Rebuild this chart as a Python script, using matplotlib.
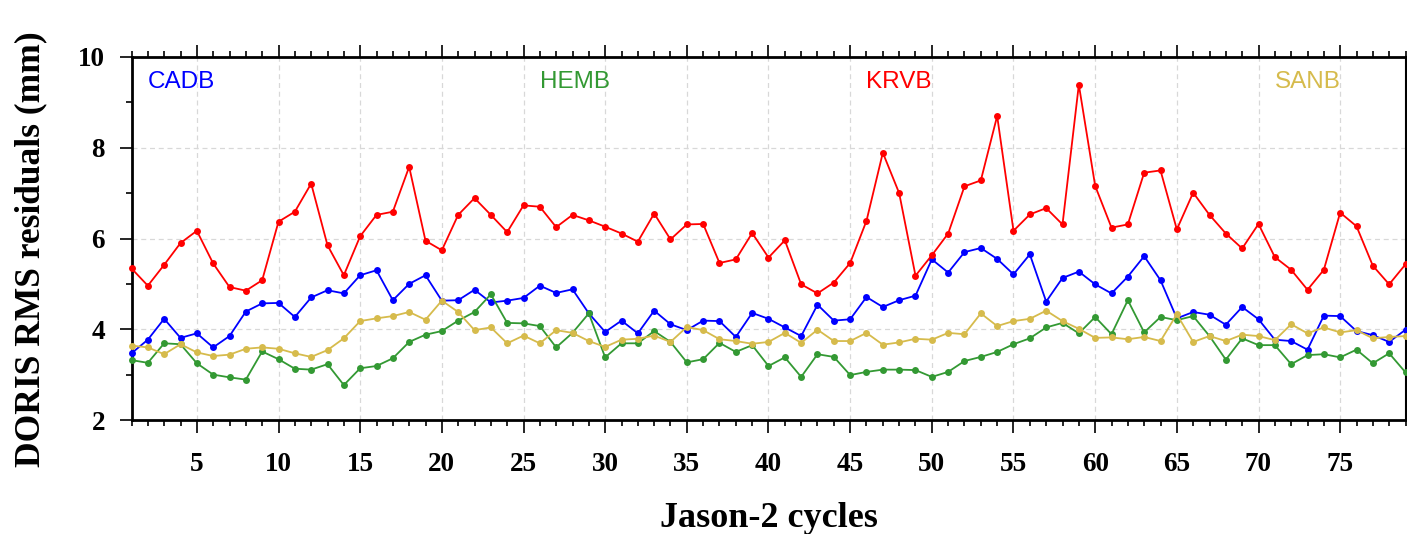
import matplotlib
matplotlib.use('Agg')
import matplotlib.pyplot as plt
from matplotlib.ticker import MultipleLocator
import numpy as np

cycles = np.arange(1, 80)

cadb = [3.47, 3.77, 4.23, 3.81, 3.91, 3.60, 3.85, 4.39, 4.57, 4.58,
        4.27, 4.70, 4.86, 4.79, 5.19, 5.30, 4.64, 5.00, 5.19, 4.63,
        4.64, 4.87, 4.59, 4.63, 4.69, 4.96, 4.80, 4.88, 4.35, 3.94,
        4.19, 3.91, 4.41, 4.11, 3.98, 4.19, 4.18, 3.83, 4.36, 4.23,
        4.04, 3.85, 4.54, 4.19, 4.22, 4.71, 4.49, 4.64, 4.74, 5.54,
        5.25, 5.70, 5.79, 5.55, 5.21, 5.65, 4.61, 5.13, 5.27, 4.99,
        4.79, 5.16, 5.61, 5.08, 4.24, 4.38, 4.32, 4.10, 4.49, 4.22,
        3.77, 3.74, 3.55, 4.30, 4.29, 3.96, 3.87, 3.72, 3.99]

hemb = [3.32, 3.26, 3.69, 3.67, 3.25, 3.00, 2.94, 2.89, 3.51, 3.34,
        3.13, 3.11, 3.23, 2.77, 3.14, 3.19, 3.36, 3.72, 3.88, 3.96,
        4.19, 4.38, 4.77, 4.14, 4.13, 4.07, 3.60, 3.92, 4.35, 3.38,
        3.69, 3.69, 3.96, 3.72, 3.27, 3.34, 3.70, 3.50, 3.65, 3.19,
        3.38, 2.95, 3.45, 3.39, 2.99, 3.06, 3.11, 3.11, 3.10, 2.95,
        3.06, 3.30, 3.39, 3.50, 3.67, 3.80, 4.04, 4.14, 3.91, 4.27,
        3.89, 4.64, 3.93, 4.27, 4.20, 4.29, 3.85, 3.33, 3.80, 3.65,
        3.65, 3.23, 3.43, 3.45, 3.38, 3.55, 3.25, 3.47, 3.05]

krvb = [5.34, 4.96, 5.42, 5.90, 6.17, 5.45, 4.93, 4.85, 5.08, 6.37,
        6.59, 7.21, 5.85, 5.19, 6.05, 6.52, 6.59, 7.58, 5.95, 5.74,
        6.52, 6.89, 6.52, 6.14, 6.73, 6.70, 6.25, 6.52, 6.40, 6.26,
        6.11, 5.93, 6.55, 5.98, 6.31, 6.32, 5.46, 5.54, 6.12, 5.58,
        5.96, 4.99, 4.79, 5.03, 5.46, 6.39, 7.89, 7.00, 5.18, 5.63,
        6.11, 7.15, 7.28, 8.70, 6.17, 6.53, 6.67, 6.31, 9.39, 7.16,
        6.24, 6.31, 7.45, 7.50, 6.20, 7.01, 6.52, 6.11, 5.78, 6.32,
        5.59, 5.31, 4.87, 5.31, 6.57, 6.27, 5.40, 4.99, 5.43]

sanb = [3.64, 3.60, 3.45, 3.67, 3.49, 3.41, 3.44, 3.57, 3.60, 3.57,
        3.47, 3.39, 3.54, 3.80, 4.18, 4.24, 4.29, 4.38, 4.21, 4.63,
        4.38, 3.98, 4.04, 3.69, 3.86, 3.69, 3.98, 3.92, 3.74, 3.61,
        3.77, 3.79, 3.86, 3.72, 4.05, 3.98, 3.78, 3.74, 3.68, 3.72,
        3.92, 3.70, 3.99, 3.74, 3.74, 3.92, 3.66, 3.71, 3.79, 3.77,
        3.92, 3.89, 4.35, 4.07, 4.18, 4.23, 4.41, 4.18, 4.01, 3.81,
        3.82, 3.78, 3.83, 3.74, 4.33, 3.72, 3.85, 3.74, 3.88, 3.85,
        3.76, 4.11, 3.91, 4.04, 3.93, 3.98, 3.80, 3.83, 3.85]

names = ['CADB', 'HEMB', 'KRVB', 'SANB']
colors = ['#0000ff', '#339933', '#ff0000', '#d6bb4c']
label_x = [2, 26, 46, 71]

fig = plt.figure(figsize=(14.07, 5.34), dpi=100)
ax = fig.add_axes([131.5 / 1407, 1 - 420 / 534, (1405.5 - 131.5) / 1407, (420 - 57) / 534])

for name, vals, color, lx in zip(names, [cadb, hemb, krvb, sanb], colors, label_x):
    ax.plot(cycles, vals, color=color, linewidth=1.3, marker='o', markersize=5.0,
            markeredgewidth=0, clip_on=False, zorder=3)
    ax.text(lx, 9.45, name, color=color, fontsize=17.5, family='Liberation Sans',
            ha='left', va='center')

ax.set_xlim(1, 79)
ax.set_ylim(2, 10)
ax.xaxis.set_major_locator(MultipleLocator(5))
ax.xaxis.set_minor_locator(MultipleLocator(1))
ax.yaxis.set_major_locator(MultipleLocator(2))
ax.yaxis.set_minor_locator(MultipleLocator(1))
ax.set_xticks(np.arange(5, 80, 5))

ax.grid(True, which='major', color='#d8d8d8', linestyle=(0, (4, 3)), linewidth=0.9)
ax.set_axisbelow(True)

for s in ax.spines.values():
    s.set_linewidth(2.0)
ax.spines['right'].set_linewidth(1.5)

ax.tick_params(axis='x', which='both', direction='out', top=True, bottom=True, width=1.2)
ax.tick_params(axis='x', which='major', length=9, pad=14)
ax.tick_params(axis='x', which='minor', length=4.5)
ax.tick_params(axis='y', which='both', direction='out', left=True, right=False, width=1.2)
ax.tick_params(axis='y', which='major', length=9, pad=10)
ax.tick_params(axis='y', which='minor', length=4.5)

for lab in ax.get_xticklabels() + ax.get_yticklabels():
    lab.set_family('Liberation Serif')
    lab.set_fontweight('bold')
    lab.set_fontsize(19.5)

ax.set_xlabel('Jason-2 cycles', family='Liberation Serif', fontweight='bold', fontsize=26)
ax.set_ylabel('DORIS RMS residuals (mm)', family='Liberation Serif', fontweight='bold', fontsize=25.5)
ax.xaxis.set_label_coords(0.5, -0.225)
ax.yaxis.set_label_coords(-0.066, 0.471)

fig.savefig('out.png', dpi=100)
